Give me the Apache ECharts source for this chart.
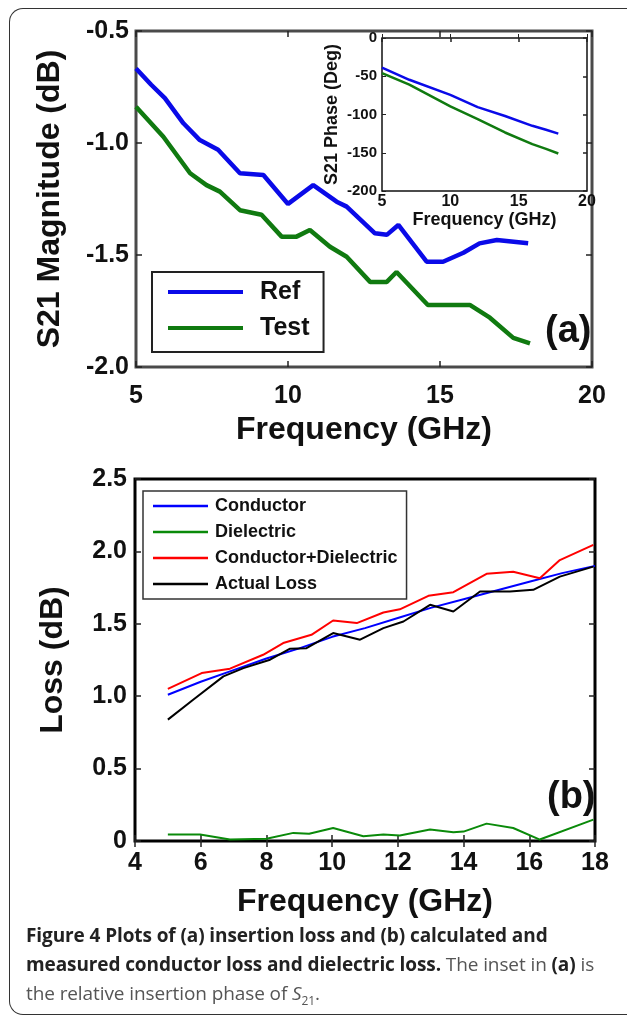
<!DOCTYPE html>
<html>
<head>
<meta charset="utf-8">
<script src="https://cdn.jsdelivr.net/npm/echarts@6/dist/echarts.min.js"></script>
<style>
  html, body { margin: 0; width: 627px; height: 1017px; overflow: hidden; background: #fff; }
  body { position: relative; }
  #frame { position: absolute; left: 9px; top: 8px; width: 720px; height: 1005px; border: 1.5px solid #333; border-right: none; border-radius: 14px 0 0 14px; }
  #chart { position: absolute; left: 0; top: 0; width: 627px; height: 1017px; }
  #caption { position: absolute; left: 26px; top: 921px; width: 600px; font-family: "Open Sans", "Noto Sans", sans-serif; font-size: 19px; line-height: 29px; color: #222; white-space: nowrap; letter-spacing: -0.1px; }
  #caption b { font-weight: 700; }
  #caption .lt { color: #555; font-weight: 400; }
</style>
</head>
<body>
<div id="frame"></div>
<div id="chart"></div>
<div id="caption">
  <b>Figure 4 Plots of (a) insertion loss and (b) calculated and<br>
  measured conductor loss and dielectric loss.</b> <span class="lt">The inset in</span> <b>(a)</b> <span class="lt">is<br>
  the relative insertion phase of <i>S</i><sub style="font-size:12px">21</sub>.</span>
</div>
<script type="text/javascript">
// (a) S21 magnitude, dB
var refFreq = [5.0, 5.5, 5.95, 6.56, 7.1, 7.7, 8.42, 9.19, 10.0, 10.83, 11.6, 11.93, 12.86, 13.25, 13.63, 14.56, 15.1, 15.77, 16.3, 16.87, 17.9];
var refMag = [-0.667, -0.74, -0.80, -0.912, -0.987, -1.03, -1.135, -1.143, -1.272, -1.188, -1.262, -1.284, -1.403, -1.41, -1.366, -1.53, -1.53, -1.49, -1.448, -1.433, -1.448];
var testFreq = [5.0, 5.9, 6.78, 7.32, 7.76, 8.42, 9.13, 9.79, 10.28, 10.72, 11.38, 11.93, 12.7, 13.25, 13.57, 14.6, 15.98, 16.64, 17.41, 17.96];
var testMag = [-0.838, -0.972, -1.135, -1.188, -1.217, -1.30, -1.32, -1.418, -1.418, -1.388, -1.463, -1.508, -1.62, -1.62, -1.576, -1.723, -1.723, -1.78, -1.87, -1.895];

// inset: S21 phase, deg
var phaseFreq = [5, 7, 10, 12, 14, 16, 17, 17.9];
var phaseRef = [-38.6, -54.6, -74.3, -90.4, -102, -114.8, -120, -125];
var phaseTest = [-45.9, -61, -89.5, -106, -123.5, -138.7, -145, -151];

// (b) losses, dB
var condFreq = [5, 6, 7, 8, 9, 10, 11, 12, 13, 14, 15, 16, 17, 18];
var conductor = [1.01, 1.10, 1.18, 1.26, 1.33, 1.41, 1.47, 1.54, 1.61, 1.67, 1.73, 1.79, 1.85, 1.90];
var dielFreq = [5.0, 5.98, 6.89, 8.0, 8.82, 9.3, 10.03, 10.95, 11.56, 12.06, 12.98, 13.69, 14.0, 14.7, 15.51, 16.32, 17.95];
var dielectric = [0.045, 0.045, 0.01, 0.015, 0.056, 0.05, 0.09, 0.033, 0.045, 0.038, 0.08, 0.06, 0.065, 0.12, 0.09, 0.01, 0.148];
var sumFreq = [5.0, 6.03, 6.89, 7.9, 8.51, 9.37, 10.03, 10.75, 11.56, 12.06, 12.93, 13.69, 14.7, 15.51, 16.32, 16.93, 17.95];
var condDiel = [1.05, 1.16, 1.19, 1.286, 1.367, 1.424, 1.523, 1.505, 1.578, 1.60, 1.693, 1.718, 1.845, 1.86, 1.815, 1.94, 2.045];
var actFreq = [5.0, 5.77, 6.69, 7.3, 8.11, 8.72, 9.22, 10.03, 10.85, 11.56, 12.17, 12.98, 13.69, 14.5, 15.41, 16.12, 16.93, 17.95];
var actualLoss = [0.838, 0.976, 1.137, 1.194, 1.252, 1.328, 1.332, 1.436, 1.39, 1.47, 1.516, 1.631, 1.585, 1.723, 1.723, 1.735, 1.826, 1.895];

var FONT = 'Liberation Sans, Arial, Helvetica, sans-serif';

function pairs(xs, ys) {
    var res = [];
    for (var i = 0; i < xs.length; i++) res.push([xs[i], ys[i]]);
    return res;
}

function oneDec(v) { return v === 0 ? '0' : v.toFixed(1); }

// an axis that only carries inward ticks (mirror side of a box)
function mirrorAxis(grid, pos, min, max, step, len) {
    return {
        type: 'value', gridIndex: grid, position: pos, min: min, max: max, interval: step,
        axisLine: { show: false }, axisLabel: { show: false }, splitLine: { show: false },
        axisTick: { inside: true, length: len, lineStyle: { color: '#222', width: 1.5 } }
    };
}

function line(name, xi, xs, ys, color, width) {
    return {
        name: name, type: 'line', xAxisIndex: xi, yAxisIndex: xi,
        data: pairs(xs, ys), symbol: 'none', silent: true,
        lineStyle: { color: color, width: width }, itemStyle: { color: color }
    };
}

var chart = echarts.init(document.getElementById('chart'), null, { renderer: 'canvas' });

var option = {
    animation: false,
    grid: [
        { left: 136, top: 31, width: 456, height: 336, show: true, backgroundColor: '#fff', borderColor: '#4a4a4a', borderWidth: 3, containLabel: false, outerBoundsMode: 'none' },
        { left: 382, top: 38, width: 205, height: 153, show: true, backgroundColor: '#fff', borderColor: '#111', borderWidth: 1.5, containLabel: false, outerBoundsMode: 'none' },
        { left: 135, top: 479, width: 460, height: 362, show: true, backgroundColor: '#fff', borderColor: '#000', borderWidth: 3, containLabel: false, outerBoundsMode: 'none' }
    ],
    xAxis: [
        {
            type: 'value', gridIndex: 0, min: 5, max: 20, interval: 5,
            name: 'Frequency (GHz)', nameLocation: 'middle', nameGap: 47,
            nameTextStyle: { fontFamily: FONT, fontWeight: 'bold', fontSize: 32, color: '#111' },
            axisLine: { show: false }, splitLine: { show: false },
            axisTick: { inside: true, length: 6, lineStyle: { color: '#222', width: 1.5 } },
            axisLabel: { margin: 17, fontFamily: FONT, fontWeight: 'bold', fontSize: 25, color: '#111' }
        },
        mirrorAxis(0, 'top', 5, 20, 5, 6),
        {
            type: 'value', gridIndex: 1, min: 5, max: 20, interval: 5,
            name: 'Frequency (GHz)', nameLocation: 'middle', nameGap: 19,
            nameTextStyle: { fontFamily: FONT, fontWeight: 'bold', fontSize: 18, color: '#111' },
            axisLine: { show: false }, splitLine: { show: false },
            axisTick: { inside: true, length: 4, lineStyle: { color: '#222' } },
            axisLabel: { margin: 3, fontFamily: FONT, fontWeight: 'bold', fontSize: 16, color: '#111' }
        },
        mirrorAxis(1, 'top', 5, 20, 5, 4),
        {
            type: 'value', gridIndex: 2, min: 4, max: 18, interval: 2,
            name: 'Frequency (GHz)', nameLocation: 'middle', nameGap: 45,
            nameTextStyle: { fontFamily: FONT, fontWeight: 'bold', fontSize: 32, color: '#111' },
            axisLine: { show: false }, splitLine: { show: false },
            axisTick: { inside: true, length: 6, lineStyle: { color: '#222', width: 1.5 } },
            axisLabel: { margin: 10, fontFamily: FONT, fontWeight: 'bold', fontSize: 25, color: '#111' }
        },
        mirrorAxis(2, 'top', 4, 18, 2, 6)
    ],
    yAxis: [
        {
            type: 'value', gridIndex: 0, min: -2, max: -0.5, interval: 0.5,
            name: 'S21 Magnitude (dB)', nameLocation: 'middle', nameGap: 70,
            nameTextStyle: { fontFamily: FONT, fontWeight: 'bold', fontSize: 32, color: '#111' },
            axisLine: { show: false }, splitLine: { show: false },
            axisTick: { inside: true, length: 6, lineStyle: { color: '#222', width: 1.5 } },
            axisLabel: { margin: 7, formatter: oneDec, fontFamily: FONT, fontWeight: 'bold', fontSize: 25, color: '#111' }
        },
        mirrorAxis(0, 'right', -2, -0.5, 0.5, 6),
        {
            type: 'value', gridIndex: 1, min: -200, max: 0, interval: 50,
            name: 'S21 Phase (Deg)', nameLocation: 'middle', nameGap: 41,
            nameTextStyle: { fontFamily: FONT, fontWeight: 'bold', fontSize: 18, color: '#111' },
            axisLine: { show: false }, splitLine: { show: false },
            axisTick: { inside: true, length: 4, lineStyle: { color: '#222' } },
            axisLabel: { margin: 5, fontFamily: FONT, fontWeight: 'bold', fontSize: 15, color: '#111' }
        },
        mirrorAxis(1, 'right', -200, 0, 50, 4),
        {
            type: 'value', gridIndex: 2, min: 0, max: 2.5, interval: 0.5,
            name: 'Loss (dB)', nameLocation: 'middle', nameGap: 66,
            nameTextStyle: { fontFamily: FONT, fontWeight: 'bold', fontSize: 32, color: '#111' },
            axisLine: { show: false }, splitLine: { show: false },
            axisTick: { inside: true, length: 6, lineStyle: { color: '#222', width: 1.5 } },
            axisLabel: { margin: 8, formatter: oneDec, fontFamily: FONT, fontWeight: 'bold', fontSize: 25, color: '#111' }
        },
        mirrorAxis(2, 'right', 0, 2.5, 0.5, 6)
    ],
    legend: [
        {
            data: ['Ref', 'Test'], orient: 'vertical', left: 152, top: 272,
            icon: 'rect', itemWidth: 75, itemHeight: 4, itemGap: 6,
            padding: [5, 14, 9, 16], borderColor: '#222', borderWidth: 2, backgroundColor: '#fff',
            selectedMode: false,
            textStyle: { fontFamily: FONT, fontWeight: 'bold', fontSize: 25, lineHeight: 30, color: '#111', padding: [0, 0, 0, 12] }
        },
        {
            data: ['Conductor', 'Dielectric', 'Conductor+Dielectric', 'Actual Loss'], orient: 'vertical', left: 143, top: 491,
            icon: 'rect', itemWidth: 55, itemHeight: 2.5, itemGap: 6,
            padding: [5, 9, 5, 10], borderColor: '#333', borderWidth: 1.5, backgroundColor: '#fff',
            selectedMode: false,
            textStyle: { fontFamily: FONT, fontWeight: 'bold', fontSize: 18, lineHeight: 20, color: '#111', padding: [0, 0, 0, 2] }
        }
    ],
    graphic: [
        { type: 'text', left: 545, top: 313, z: 10, style: { text: '(a)', fontFamily: FONT, fontWeight: 'bold', fontSize: 38, fill: '#111' } },
        { type: 'text', left: 547, top: 779, z: 10, style: { text: '(b)', fontFamily: FONT, fontWeight: 'bold', fontSize: 38, fill: '#111' } }
    ],
    series: [
        line('Ref', 0, refFreq, refMag, '#0a0ae8', 4.5),
        line('Test', 0, testFreq, testMag, '#107a10', 4.5),
        line('Ref phase', 2, phaseFreq, phaseRef, '#0a0ae8', 2.5),
        line('Test phase', 2, phaseFreq, phaseTest, '#107a10', 2.5),
        line('Conductor', 4, condFreq, conductor, '#0000ff', 2),
        line('Dielectric', 4, dielFreq, dielectric, '#0a8a0a', 2),
        line('Conductor+Dielectric', 4, sumFreq, condDiel, '#ff0000', 2),
        line('Actual Loss', 4, actFreq, actualLoss, '#000000', 2)
    ]
};
chart.setOption(option);
</script>
</body>
</html>
